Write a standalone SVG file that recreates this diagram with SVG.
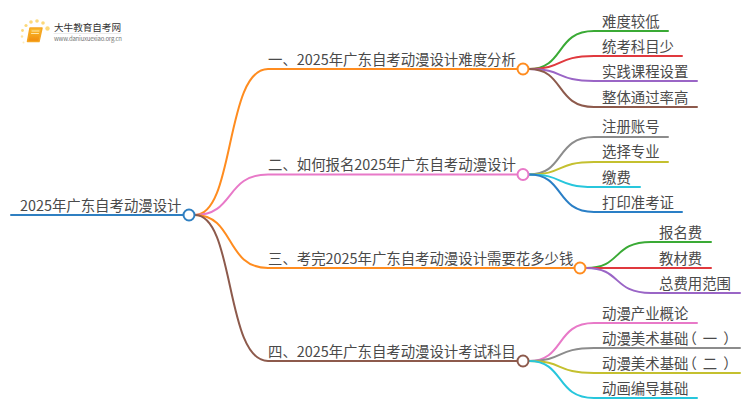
<svg xmlns="http://www.w3.org/2000/svg" width="750" height="410" viewBox="0 0 750 410">
<style>
text{font-family:"Noto Sans CJK SC","Noto Sans",sans-serif;font-size:14.4px;fill:#4a4a4a}
path{fill:none;stroke-width:2;stroke-linecap:round}
circle.n{fill:#fff;stroke-width:2}
.o{stroke:#ff8c1f}.p{stroke:#e879c8}.b{stroke:#8d5a4c}.blue{stroke:#2f7fc1}
.g{stroke:#3aaa35}.r{stroke:#e0393e}.v{stroke:#9a65c6}.gy{stroke:#8c8c8c}.y{stroke:#c4c02f}.c{stroke:#27c6dc}.db{stroke:#2a7fc6}
</style>
<defs><linearGradient id="bk" x1="0" y1="0" x2="0" y2="1"><stop offset="0" stop-color="#fbbf2e"/><stop offset="1" stop-color="#f08a0c"/></linearGradient></defs>
<rect width="750" height="410" fill="#fff"/>
<g id="connectors">
<path class="blue" d="M11 215H184"/>
<path class="o" d="M195 215C235 215 225 69 268 69H517"/>
<path class="p" d="M195 215C235 215 225 174.500 268 174.500H517"/>
<path class="o" d="M195 215C235 215 225 268 268 268H574"/>
<path class="b" d="M195 215C235 215 225 361 268 361H517"/>
<path class="g" d="M529 69C565 69 555 31 594 31H668"/>
<path class="r" d="M529 69C565 69 555 56 594 56H682"/>
<path class="v" d="M529 69C565 69 555 81 594 81H697"/>
<path class="b" d="M529 69C565 69 555 107 594 107H697"/>
<path class="gy" d="M529 174.500C565 174.500 555 137 594 137H668"/>
<path class="y" d="M529 174.500C565 174.500 555 162 594 162H668"/>
<path class="c" d="M529 174.500C565 174.500 555 187 594 187H640"/>
<path class="db" d="M529 174.500C565 174.500 555 212 594 212H682"/>
<path class="g" d="M586 268C622 268 612 242 651 242H711"/>
<path class="r" d="M586 268H711"/>
<path class="v" d="M586 268C622 268 612 293 651 293H740"/>
<path class="p" d="M529 361C565 361 555 323 594 323H697"/>
<path class="gy" d="M529 361C565 361 555 348 594 348H740"/>
<path class="y" d="M529 361C565 361 555 373 594 373H740"/>
<path class="c" d="M529 361C565 361 555 398 594 398H697"/>
</g>
<g id="root"><text x="20" y="211">2025年广东自考动漫设计</text><circle class="n blue" cx="189" cy="215" r="5.500"/></g>
<g id="b1"><text x="268" y="65">一、2025年广东自考动漫设计难度分析</text><circle class="n o" cx="523" cy="69" r="5.500"/></g>
<g id="b2"><text x="268" y="170">二、如何报名2025年广东自考动漫设计</text><circle class="n p" cx="523" cy="174.500" r="5.500"/></g>
<g id="b3"><text x="268" y="264">三、考完2025年广东自考动漫设计需要花多少钱</text><circle class="n o" cx="580" cy="268" r="5.500"/></g>
<g id="b4"><text x="268" y="357">四、2025年广东自考动漫设计考试科目</text><circle class="n b" cx="523" cy="361" r="5.500"/></g>
<g id="l11"><text x="602" y="27">难度较低</text></g>
<g id="l12"><text x="602" y="52">统考科目少</text></g>
<g id="l13"><text x="602" y="77">实践课程设置</text></g>
<g id="l14"><text x="602" y="103">整体通过率高</text></g>
<g id="l21"><text x="602" y="132">注册账号</text></g>
<g id="l22"><text x="602" y="157">选择专业</text></g>
<g id="l23"><text x="602" y="183">缴费</text></g>
<g id="l24"><text x="602" y="208">打印准考证</text></g>
<g id="l31"><text x="659" y="238">报名费</text></g>
<g id="l32"><text x="659" y="264">教材费</text></g>
<g id="l33"><text x="659" y="289">总费用范围</text></g>
<g id="l41"><text x="602" y="319">动漫产业概论</text></g>
<g id="l42"><text x="602" y="344" dx="0 0 0 0 0 0 -6 6 6">动漫美术基础（一）</text></g>
<g id="l43"><text x="602" y="369" dx="0 0 0 0 0 0 -6 6 6">动漫美术基础（二）</text></g>
<g id="l44"><text x="602" y="394">动画编导基础</text></g>
<g id="logo">
<g fill="#fcd97a"><circle cx="31" cy="22" r="1.800"/><circle cx="37" cy="21" r="1.800"/><circle cx="26" cy="25.500" r="1.600"/><circle cx="43" cy="23" r="1.800"/><circle cx="47.500" cy="28.500" r="2.200"/><circle cx="22.500" cy="30.500" r="1.400"/><circle cx="22" cy="36.500" r="1.200" opacity=".7"/><circle cx="23.500" cy="42.500" r="1" opacity=".5"/></g>
<path d="M30 28H42L39 41.500H27.500Z" style="fill:url(#bk);stroke:#f5a623;stroke-width:1.500;stroke-linejoin:round"/>
<path d="M32 31H39M31.500 33.500H38.500" style="stroke:#ffe6a8;stroke-width:1"/>
<text x="54" y="31" textLength="67" style="font-size:9.600px;fill:#333">大牛教育自考网</text>
<path d="M54 33.500H121" style="stroke:#ddd;stroke-width:.6"/>
<text x="54" y="41" textLength="68" style="font-size:6px;fill:#777">www.daniuxuexiao.org.cn</text>
</g>
</svg>
